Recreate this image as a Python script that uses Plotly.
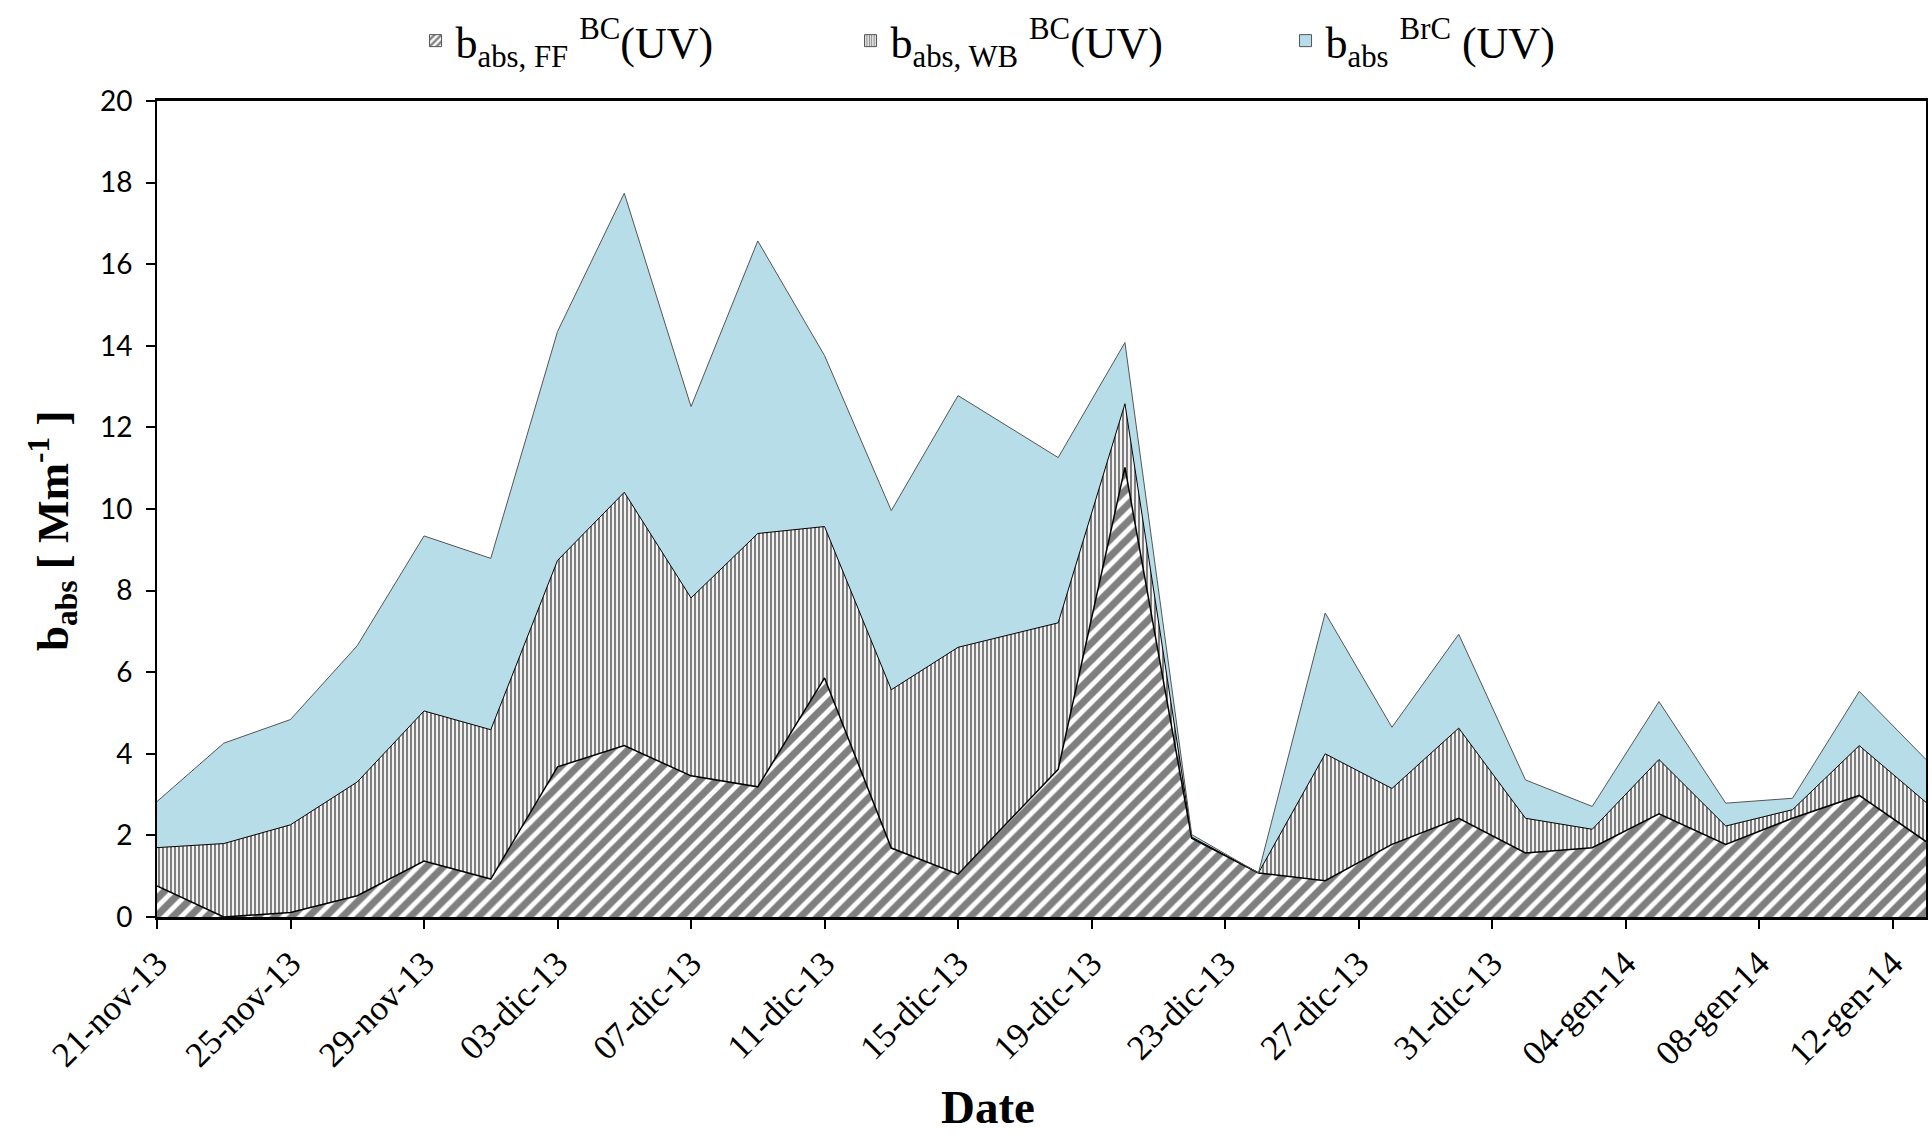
import plotly.graph_objects as go

dates = ["2013-11-21", "2013-11-23", "2013-11-25", "2013-11-27", "2013-11-29",
         "2013-12-01", "2013-12-03", "2013-12-05", "2013-12-07", "2013-12-09",
         "2013-12-11", "2013-12-13", "2013-12-15", "2013-12-18", "2013-12-20",
         "2013-12-22", "2013-12-24", "2013-12-26", "2013-12-28", "2013-12-30",
         "2014-01-01", "2014-01-03", "2014-01-05", "2014-01-07", "2014-01-09",
         "2014-01-11", "2014-01-13"]

babs_ff_bc = [0.76, 0.00, 0.11, 0.52, 1.37, 0.93, 3.68, 4.20, 3.46, 3.19,
              5.86, 1.69, 1.05, 3.62, 11.02, 1.93, 1.08, 0.89, 1.78, 2.42,
              1.57, 1.70, 2.53, 1.78, 2.42, 2.98, 1.85]
babs_wb_bc = [0.94, 1.80, 2.15, 2.79, 3.68, 3.66, 5.06, 6.21, 4.36, 6.21,
              3.71, 3.88, 5.56, 3.59, 1.56, 0.03, 0.00, 3.11, 1.37, 2.21,
              0.85, 0.45, 1.33, 0.45, 0.21, 1.22, 0.96]
babs_brc = [1.13, 2.46, 2.58, 3.34, 4.29, 4.20, 5.61, 7.33, 4.69, 7.17,
            4.19, 4.39, 6.17, 4.05, 1.50, 0.06, 0.00, 3.45, 1.50, 2.30,
            0.94, 0.56, 1.42, 0.56, 0.28, 1.33, 1.05]

tick_dates = ["2013-11-21", "2013-11-25", "2013-11-29", "2013-12-03", "2013-12-07",
              "2013-12-11", "2013-12-15", "2013-12-19", "2013-12-23", "2013-12-27",
              "2013-12-31", "2014-01-04", "2014-01-08", "2014-01-12"]
tick_labels = ["21-nov-13", "25-nov-13", "29-nov-13", "03-dic-13", "07-dic-13",
               "11-dic-13", "15-dic-13", "19-dic-13", "23-dic-13", "27-dic-13",
               "31-dic-13", "04-gen-14", "08-gen-14", "12-gen-14"]

names = ["b<sub>abs, FF</sub> <sup>BC</sup>(UV)",
         "b<sub>abs, WB</sub> <sup>BC</sup>(UV)",
         "b<sub>abs</sub> <sup>BrC</sup> (UV)"]

ff_pattern = dict(shape="/", fgcolor="black", bgcolor="white", size=12, solidity=0.6)
wb_pattern = dict(shape="|", fgcolor="black", bgcolor="white", size=4, solidity=0.55)
brc_color = "#B7DDE8"

fig = go.Figure()
fig.add_trace(go.Scatter(
    x=dates, y=babs_ff_bc, name=names[0], mode="lines", stackgroup="one",
    line=dict(color="black", width=1.5), fillcolor="white",
    fillpattern=ff_pattern, showlegend=False, legendgroup="ff",
))
fig.add_trace(go.Scatter(
    x=dates, y=babs_wb_bc, name=names[1], mode="lines", stackgroup="one",
    line=dict(color="black", width=1), fillcolor="white",
    fillpattern=wb_pattern, showlegend=False, legendgroup="wb",
))
fig.add_trace(go.Scatter(
    x=dates, y=babs_brc, name=names[2], mode="lines", stackgroup="one",
    line=dict(color="#555555", width=1), fillcolor=brc_color,
    showlegend=False, legendgroup="brc",
))

# legend-only entries (square swatches like the reference)
fig.add_trace(go.Bar(x=[None], y=[None], name=names[0], legendgroup="ff",
                     marker=dict(color="white", pattern=dict(shape="/", fgcolor="black", bgcolor="white", size=6, solidity=0.5),
                                 line=dict(color="#555555", width=1))))
fig.add_trace(go.Bar(x=[None], y=[None], name=names[1], legendgroup="wb",
                     marker=dict(color="white", pattern=dict(shape="|", fgcolor="black", bgcolor="white", size=3, solidity=0.5),
                                 line=dict(color="#555555", width=1))))
fig.add_trace(go.Bar(x=[None], y=[None], name=names[2], legendgroup="brc",
                     marker=dict(color=brc_color, line=dict(color="#555555", width=1))))

fig.update_layout(
    width=1932, height=1144,
    margin=dict(l=157, r=6, t=101, b=227, autoexpand=False),
    plot_bgcolor="white", paper_bgcolor="white",
    showlegend=True,
    legend=dict(orientation="h", x=0.515, xanchor="center", y=1.117, yanchor="top",
                font=dict(family="Liberation Serif", size=44, color="black"),
                traceorder="normal", entrywidth=390, entrywidthmode="pixels"),
    xaxis=dict(
        type="date", range=["2013-11-21", "2014-01-13"],
        tickvals=tick_dates, ticktext=tick_labels, tickangle=-45,
        tickfont=dict(family="Liberation Serif", size=35, color="black"),
        ticks="outside", ticklen=9, tickwidth=1.5, tickcolor="black",
        showline=True, linecolor="black", linewidth=2.5, mirror=True,
        showgrid=False, zeroline=False,
    ),
    yaxis=dict(
        range=[0, 20], dtick=2, tick0=0,
        tickfont=dict(family="Lato", size=28, color="black"),
        ticks="outside", ticklen=9, tickwidth=1.5, tickcolor="black",
        ticklabelstandoff=8,
        showline=True, linecolor="black", linewidth=2, mirror=True,
        showgrid=False, zeroline=False,
    ),
    annotations=[
        dict(text="b<sub>abs</sub> [ Mm<sup>-1</sup> ]", xref="paper", yref="paper",
             x=0, y=0.5, xshift=-105, yshift=-22, textangle=-90, showarrow=False,
             xanchor="center", yanchor="middle",
             font=dict(family="Liberation Serif", size=45, color="black", weight="bold")),
        dict(text="Date", xref="paper", yref="paper",
             x=0.47, y=0, yshift=-190, showarrow=False,
             xanchor="center", yanchor="middle",
             font=dict(family="Liberation Serif", size=47, color="black", weight="bold")),
    ],
)

fig.write_html("out.html")
